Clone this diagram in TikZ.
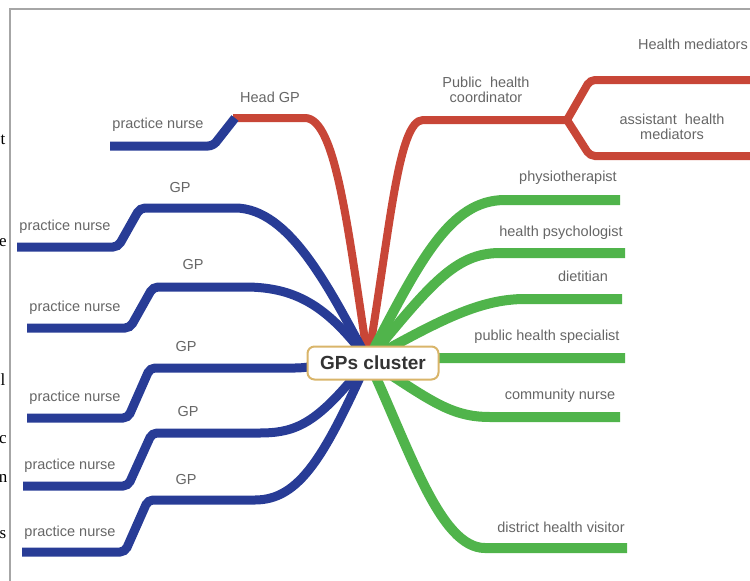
\documentclass[tikz,border=0pt]{standalone}
\usepackage{fontspec}
\setmainfont{Liberation Sans}
\newfontfamily\edgefont{Liberation Serif}
\usetikzlibrary{backgrounds}

\definecolor{mmblue}{HTML}{283C96}
\definecolor{mmred}{HTML}{C84637}
\definecolor{mmgreen}{HTML}{50B44B}
\definecolor{mmtext}{HTML}{666666}
\definecolor{mmgold}{HTML}{D9B56A}

\tikzset{
  bluebr/.style={draw=mmblue, line width=9pt, rounded corners=5pt},
  redbr/.style={draw=mmred, line width=8pt, rounded corners=5pt},
  greenbr/.style={draw=mmgreen, line width=10pt, rounded corners=5pt},
  lbl/.style={text=mmtext, font=\fontsize{14.5}{15}\selectfont, inner sep=0pt, align=center},
  stray/.style={font=\edgefont\fontsize{17}{17}\selectfont, inner sep=0pt},
  cluster/.style={draw=mmgold, line width=2pt, rounded corners=7pt, fill=white,
    text=black!80, font=\bfseries\fontsize{19}{20}\selectfont,
    minimum width=131pt, minimum height=33pt}
}

\begin{document}
\begin{tikzpicture}[x=1pt,y=-1pt]
\useasboundingbox (0,0) rectangle (750,581);
%%%%%%%%%%%%%%%%%%%%%%%%%%%%%%%%%%%%%%%%%%% frame
\draw[gray!70, line width=1.5pt] (10,590) -- (10,9) -- (760,9);

%%%%% cut letters at the edge
\node[stray](s1) at (3,140) {t};
\node[stray](s2) at (3,243) {e};
\node[stray](s3) at (3,380) {l};
\node[stray](s4) at (3,440) {c};
\node[stray](s5) at (3,478) {n};
\node[stray](s6) at (3,535) {s};

%%%%%%%%%%%%%%%%%%%%%%%%%%%%%%%%%%%%%%%%%%% centre
\node[cluster](gpc) at (373,363) {GPs cluster};
\coordinate (hub) at (368,360);

%%%%% labels left
\node[lbl](headgp) at (270,97) {Head GP};
\node[lbl](pn0) at (158,125) {practice nurse};
\node[lbl](gp1) at (180,188) {GP};
\node[lbl](pn1) at (65,227) {practice nurse};
\node[lbl](gp2) at (193,265) {GP};
\node[lbl](pn2) at (75,308) {practice nurse};
\node[lbl](gp3) at (186,347) {GP};
\node[lbl](pn3) at (75,398) {practice nurse};
\node[lbl](gp4) at (188,412) {GP};
\node[lbl](pn4) at (70,466) {practice nurse};
\node[lbl](gp5) at (186,480) {GP};
\node[lbl](pn5) at (70,533) {practice nurse};

%%%%% labels right
\node[lbl](phc) at (486,90) {Public\ \ health\\coordinator};
\node[lbl](ahm) at (672,127) {assistant\ \ health\\mediators};
\node[lbl, anchor=west](hm) at (638,44) {Health mediators};
\node[lbl](physio) at (568,178) {physiotherapist};
\node[lbl](psych) at (561,233) {health psychologist};
\node[lbl](diet) at (583,276) {dietitian};
\node[lbl](phs) at (547,337) {public health specialist};
\node[lbl](cn) at (560,396) {community nurse};
\node[lbl](dhv) at (561,527) {district health visitor};

%%%%% branch ends
\coordinate (e0) at (110,146);
\coordinate (e1) at (17,247);
\coordinate (e2) at (27,328);
\coordinate (e3) at (27,418);
\coordinate (e4) at (23,486);
\coordinate (e5) at (22,552);
\coordinate (split) at (567,120);
\coordinate (eup) at (760,80);
\coordinate (edn) at (760,156);

\begin{pgfonlayer}{background}
%%%%% red
\draw[redbr] (hub) .. controls (348,230) and (336,118) .. (300,118) -- (233,118);
\draw[redbr] (hub) .. controls (390,230) and (398,120) .. (428,120) -- (split);
\draw[redbr] (split) -- (590,80) -- (eup);
\draw[redbr] (split) -- (590,156) -- (edn);

%%%%% blue
\draw[bluebr] (235,118) -- (213,146) -- (e0);
\draw[bluebr] (hub) .. controls (330,290) and (290,208) .. (230,208) -- (140,208) -- (118,247) -- (e1);
\draw[bluebr] (hub) .. controls (330,310) and (300,287) .. (240,287) -- (153,287) -- (130,328) -- (e2);
\draw[bluebr] (hub) -- (300,368) -- (150,368) -- (128,418) -- (e3);
\draw[bluebr] (hub) .. controls (320,420) and (300,433) .. (255,433) -- (152,433) -- (128,486) -- (e4);
\draw[bluebr] (hub) .. controls (325,455) and (300,500) .. (250,500) -- (148,500) -- (125,552) -- (e5);

%%%%% green
\draw[greenbr] (hub) .. controls (420,260) and (450,200) .. (510,200) -- (620,200);
\draw[greenbr] (hub) .. controls (430,285) and (455,253) .. (505,253) -- (625,253);
\draw[greenbr] (hub) .. controls (440,320) and (480,299) .. (530,299) -- (622,299);
\draw[greenbr] (hub) -- (440,358) -- (625,358);
\draw[greenbr] (hub) .. controls (430,400) and (450,417) .. (495,417) -- (620,417);
\draw[greenbr] (hub) .. controls (410,450) and (440,548) .. (490,548) -- (627,548);
\end{pgfonlayer}
\end{tikzpicture}
\end{document}
